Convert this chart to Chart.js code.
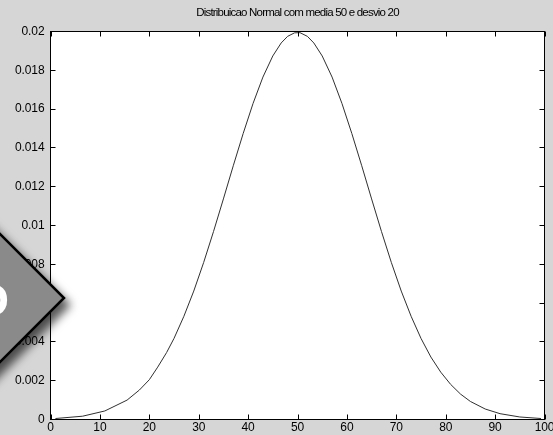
<!DOCTYPE html>
<html>
<head>
<meta charset="utf-8">
<script src="https://cdn.jsdelivr.net/npm/chart.js@4/dist/chart.umd.min.js"></script>
<style>
  html, body { margin: 0; padding: 0; background: #d6d6d6; }
  #wrap { width: 553px; height: 435px; position: relative; }
</style>
</head>
<body>
<div id="wrap"><canvas id="c" width="553" height="435"></canvas></div>
<script>
// ---- data ----
const titleText = "Distribuicao Normal com media 50 e desvio 20";
const xValues = [1, 6.5, 11, 15.5, 18, 20, 21.7, 23.5, 25, 27, 29, 31, 33, 35, 37, 39, 41, 43, 45, 46.7, 48, 49.4,
                 50.5, 52, 53.3, 55, 57, 59, 61, 63, 65, 67, 69, 71, 73, 75, 77, 79, 81, 83, 85, 88, 91, 95, 99.3];
const yValues = [0.00005, 0.00017, 0.00044, 0.00100, 0.00152, 0.00205, 0.0027, 0.00345, 0.00418, 0.00532, 0.00662,
                 0.00809, 0.00969, 0.01137, 0.01308, 0.01474, 0.01629, 0.01765, 0.01874, 0.01941, 0.01975, 0.01993,
                 0.01994, 0.01975, 0.01941, 0.01874, 0.01765, 0.01629, 0.01474, 0.01308, 0.01137, 0.00969, 0.00809,
                 0.00662, 0.00532, 0.00418, 0.00322, 0.00244, 0.00181, 0.00131, 0.00093, 0.00054, 0.0003, 0.00013, 0.00005];
const xTicks = [0, 10, 20, 30, 40, 50, 60, 70, 80, 90, 100];
const yTicks = [0, 0.002, 0.004, 0.006, 0.008, 0.01, 0.012, 0.014, 0.016, 0.018, 0.02];
const yTickLabels = ["0", "0.002", "0.004", "0.006", "0.008", "0.01", "0.012", "0.014", "0.016", "0.018", "0.02"];

const points = xValues.map((x, i) => ({ x: x, y: yValues[i] }));

const tickFont = { family: "'Liberation Sans', Arial, sans-serif", size: 12 };

const boxAndTicks = {
  id: 'boxAndTicks',
  beforeDraw(chart) {
    const { ctx, chartArea: a } = chart;
    ctx.save();
    ctx.fillStyle = '#d6d6d6';
    ctx.fillRect(0, 0, chart.width, chart.height);
    ctx.fillStyle = '#ffffff';
    ctx.fillRect(a.left, a.top, a.right - a.left, a.bottom - a.top);
    ctx.restore();
    ctx.letterSpacing = '-0.1px';
    const tb = chart.titleBlock;
    if (tb && !tb._wrapped) {
      const orig = tb.draw.bind(tb);
      tb.draw = function () {
        const prev = chart.ctx.letterSpacing;
        chart.ctx.letterSpacing = '-0.8px';
        orig();
        chart.ctx.letterSpacing = prev;
      };
      tb._wrapped = true;
    }
  },
  afterDatasetsDraw(chart) {
    const { ctx, chartArea: a, scales } = chart;
    ctx.save();
    ctx.strokeStyle = '#000';
    ctx.lineWidth = 1;
    ctx.strokeRect(a.left, a.top, a.right - a.left, a.bottom - a.top);
    const L = 5;
    ctx.beginPath();
    scales.x.ticks.forEach(t => {
      const px = Math.round(scales.x.getPixelForValue(t.value)) + 0.5;
      ctx.moveTo(px, a.bottom); ctx.lineTo(px, a.bottom - L);
      ctx.moveTo(px, a.top); ctx.lineTo(px, a.top + L);
    });
    scales.y.ticks.forEach(t => {
      const py = Math.round(scales.y.getPixelForValue(t.value) - 0.5) + 0.5;
      ctx.moveTo(a.left, py); ctx.lineTo(a.left + L, py);
      ctx.moveTo(a.right, py); ctx.lineTo(a.right - L, py);
    });
    ctx.stroke();
    ctx.restore();
  },
  afterDraw(chart) {
    // overlay arrow graphic on the left edge
    const { ctx } = chart;
    ctx.save();
    ctx.letterSpacing = '0px';
    ctx.beginPath();
    ctx.moveTo(-60, 174);
    ctx.lineTo(64, 298);
    ctx.lineTo(-60, 422);
    ctx.closePath();
    ctx.shadowColor = 'rgba(0,0,0,0.65)';
    ctx.shadowBlur = 10;
    ctx.shadowOffsetX = 7;
    ctx.shadowOffsetY = 7;
    ctx.fillStyle = '#8a8a8a';
    ctx.fill();
    ctx.shadowColor = 'transparent';
    ctx.lineWidth = 2.5;
    ctx.strokeStyle = '#000';
    ctx.stroke();
    ctx.fillStyle = '#ffffff';
    ctx.font = "bold 46px 'Liberation Sans', Arial, sans-serif";
    ctx.textAlign = 'right';
    ctx.textBaseline = 'middle';
    ctx.fillText('O', 9, 303);
    ctx.restore();
  }
};

new Chart(document.getElementById('c'), {
  type: 'line',
  data: {
    datasets: [{
      data: points,
      borderColor: '#303030',
      borderWidth: 1,
      pointRadius: 0,
      tension: 0,
      fill: false
    }]
  },
  options: {
    responsive: false,
    animation: false,
    events: [],
    layout: { padding: { left: 0, right: 8.5, top: 0, bottom: 0 } },
    plugins: {
      legend: { display: false },
      tooltip: { enabled: false },
      title: {
        display: true,
        text: titleText,
        fullSize: false,
        color: '#000',
        font: { family: "'Liberation Sans', Arial, sans-serif", size: 11.5, weight: 'normal', lineHeight: 1.2 },
        padding: { top: 6, bottom: 11.7 }
      }
    },
    scales: {
      x: {
        type: 'linear',
        min: 0, max: 100,
        afterBuildTicks: s => { s.ticks = xTicks.map(v => ({ value: v })); },
        afterFit: s => { s.height = 15.5; s.paddingLeft = 0; s.paddingRight = 0; },
        grid: { display: false, drawTicks: false },
        border: { display: false },
        ticks: { color: '#000', font: tickFont, padding: 1, maxRotation: 0, autoSkip: false }
      },
      y: {
        type: 'linear',
        min: 0, max: 0.02,
        afterBuildTicks: s => { s.ticks = yTicks.map(v => ({ value: v })); },
        afterFit: s => { s.width = 50.5; s.paddingTop = 0; s.paddingBottom = 0; },
        grid: { display: false, drawTicks: false },
        border: { display: false },
        ticks: {
          color: '#000', font: tickFont, padding: 6, autoSkip: false,
          callback: (v, i) => yTickLabels[i]
        }
      }
    }
  },
  plugins: [boxAndTicks]
});
</script>
</body>
</html>
